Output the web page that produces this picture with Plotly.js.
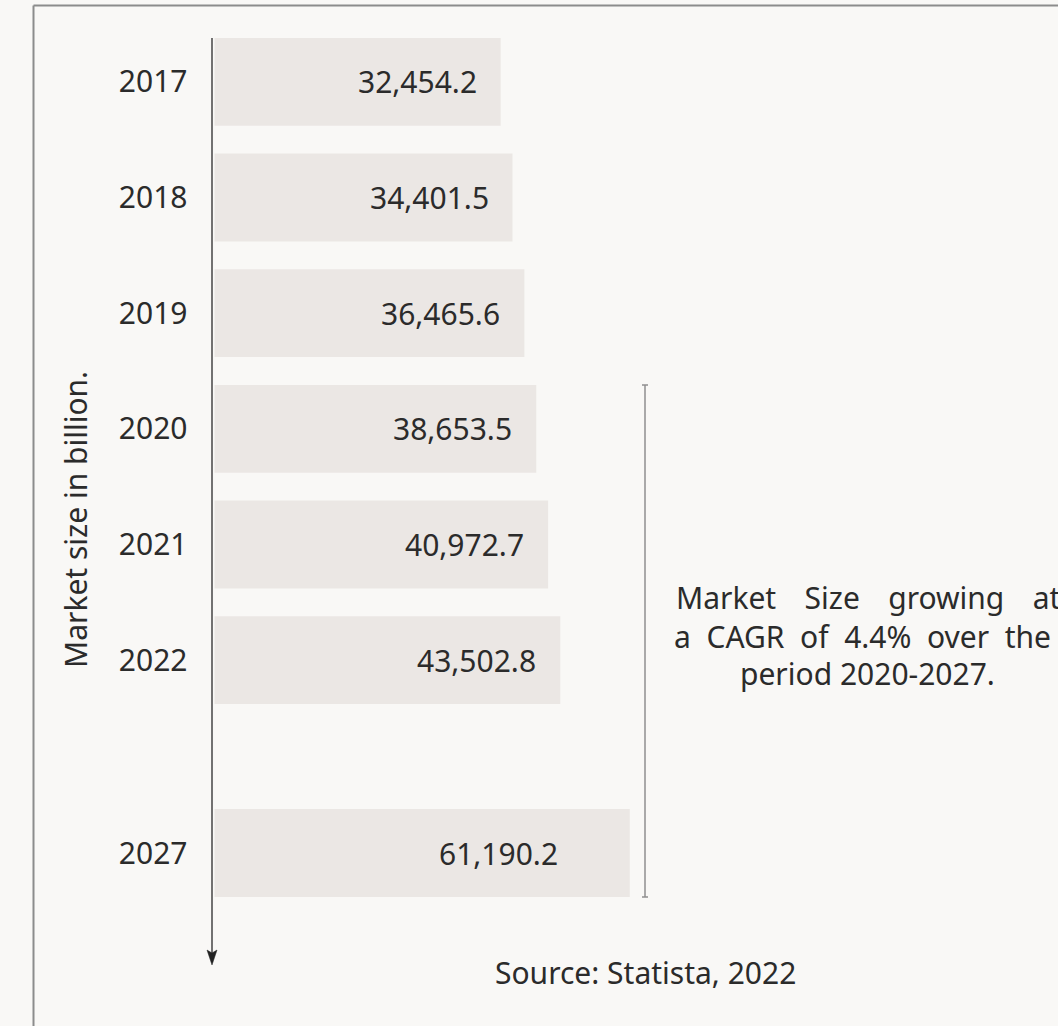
<!DOCTYPE html>
<html>
<head>
<meta charset="utf-8">
<script src="https://cdn.plot.ly/plotly-3.0.1.min.js"></script>
<style>
html,body{margin:0;padding:0;background:#f9f8f6;}
#chart{width:1058px;height:1026px;}
</style>
</head>
<body>
<div id="chart"></div>
<script>
// ---- data ----
const years = ["2017", "2018", "2019", "2020", "2021", "2022"];
const marketSize = [32454.2, 34401.5, 36465.6, 38653.5, 40972.7, 43502.8];
const forecastYear = ["2027"];
const forecastSize = [61190.2];
const axisTitle = "Market size in billion.";
const noteLines = ["Market\u00a0\u00a0\u00a0\u2009Size\u00a0\u00a0\u00a0\u2009growing\u00a0\u00a0\u00a0\u2009at",
                   "a\u00a0\u00a0CAGR\u00a0\u00a0of\u00a0\u00a04.4%\u00a0\u00a0over\u00a0\u00a0the",
                   "period 2020-2027."];
const sourceText = "Source: Statista, 2022";

// ---- helpers ----
const W = 1058, H = 1026;
const px = v => v / W;
const py = v => 1 - v / H;
const FONT = "Noto Sans, sans-serif";
const TXT = "#2b2b2b";
const BAR = "#ebe7e4";
const fmt = v => v.toLocaleString("en-US", {minimumFractionDigits: 1, maximumFractionDigits: 1});

const traces = [
  {type: "bar", orientation: "h", x: marketSize, y: years, xaxis: "x", yaxis: "y",
   marker: {color: BAR}, hoverinfo: "skip"},
  {type: "bar", orientation: "h", x: forecastSize, y: forecastYear, xaxis: "x2", yaxis: "y2",
   marker: {color: BAR}, hoverinfo: "skip"}
];

const xRange = [3.9009, 5.7001];
const xCommon = {type: "log", range: xRange, autorange: false, domain: [px(214.5), 1], showgrid: false, zeroline: false,
  showticklabels: false, showline: false, ticks: "", fixedrange: true};
const yCommon = {type: "category", showgrid: false, zeroline: false, showline: false,
  ticks: "outside", ticklen: 20, tickcolor: "rgba(0,0,0,0)", tickfont: {family: FONT, size: 30, color: TXT},
  fixedrange: true, autorange: false};

const annotations = [];
years.forEach((yr, i) => annotations.push({xref: "x", yref: "y", x: Math.log10(marketSize[i]), y: i,
  text: fmt(marketSize[i]), showarrow: false, xanchor: "right", xshift: -22,
  font: {family: FONT, size: 30, color: TXT}}));
forecastYear.forEach((yr, i) => annotations.push({xref: "x2", yref: "y2", x: Math.log10(forecastSize[i]), y: i,
  text: fmt(forecastSize[i]), showarrow: false, xanchor: "right", xshift: -70,
  font: {family: FONT, size: 30, color: TXT}}));
annotations.push({xref: "paper", yref: "paper", x: px(75), y: py(520), text: axisTitle, textangle: -90,
  showarrow: false, xanchor: "center", yanchor: "middle", font: {family: FONT, size: 30, color: TXT}});
annotations.push({xref: "paper", yref: "paper", x: px(674), y: py(597), text: noteLines[0], showarrow: false,
  xanchor: "left", yanchor: "middle", font: {family: FONT, size: 30, color: TXT}});
annotations.push({xref: "paper", yref: "paper", x: px(672), y: py(636), text: noteLines[1], showarrow: false,
  xanchor: "left", yanchor: "middle", font: {family: FONT, size: 30, color: TXT}});
annotations.push({xref: "paper", yref: "paper", x: px(867), y: py(673), text: noteLines[2], showarrow: false,
  xanchor: "center", yanchor: "middle", font: {family: FONT, size: 30, color: TXT}});
annotations.push({xref: "paper", yref: "paper", x: px(645), y: py(972), text: sourceText, showarrow: false,
  xanchor: "center", yanchor: "middle", font: {family: FONT, size: 30, color: TXT}});

const shapes = [
  // frame
  {type: "line", xref: "paper", yref: "paper", x0: px(33.5), x1: px(33.5), y0: py(5.5), y1: 0,
   line: {color: "#8c8c8c", width: 2}},
  {type: "line", xref: "paper", yref: "paper", x0: px(33.5), x1: 1, y0: py(5.5), y1: py(5.5),
   line: {color: "#8c8c8c", width: 2}},
  // vertical axis with arrow
  {type: "line", xref: "paper", yref: "paper", x0: px(212), x1: px(212), y0: py(38), y1: py(955),
   line: {color: "#444", width: 1.5}},
  {type: "path", xref: "paper", yref: "paper",
   path: `M ${px(207)} ${py(950)} L ${px(212)} ${py(965)} L ${px(217)} ${py(950)} L ${px(212)} ${py(953)} Z`,
   fillcolor: "#222", line: {color: "#222", width: 0.5}},
  // bracket
  {type: "line", xref: "paper", yref: "paper", x0: px(645), x1: px(645), y0: py(385), y1: py(897),
   line: {color: "#8f8f8f", width: 1.5}},
  {type: "line", xref: "paper", yref: "paper", x0: px(642), x1: px(648), y0: py(385), y1: py(385),
   line: {color: "#8f8f8f", width: 1.5}},
  {type: "line", xref: "paper", yref: "paper", x0: px(642), x1: px(648), y0: py(897), y1: py(897),
   line: {color: "#8f8f8f", width: 1.5}}
];

const layout = {
  width: W, height: H, margin: {l: 0, r: 0, t: 0, b: 0},
  paper_bgcolor: "#f9f8f6", plot_bgcolor: "rgba(0,0,0,0)",
  showlegend: false, bargap: 0.24,
  font: {family: FONT, color: TXT},
  xaxis: Object.assign({}, xCommon, {anchor: "y"}),
  xaxis2: Object.assign({}, xCommon, {anchor: "y2"}),
  yaxis: Object.assign({}, yCommon, {domain: [py(718), py(24)], anchor: "x",
    range: [years.length - 0.5, -0.5]}),
  yaxis2: Object.assign({}, yCommon, {domain: [py(911), py(795)], anchor: "x2",
    range: [forecastYear.length - 0.5, -0.5]}),
  annotations: annotations, shapes: shapes
};

Plotly.newPlot("chart", traces, layout, {staticPlot: true, displayModeBar: false});
</script>
</body>
</html>
